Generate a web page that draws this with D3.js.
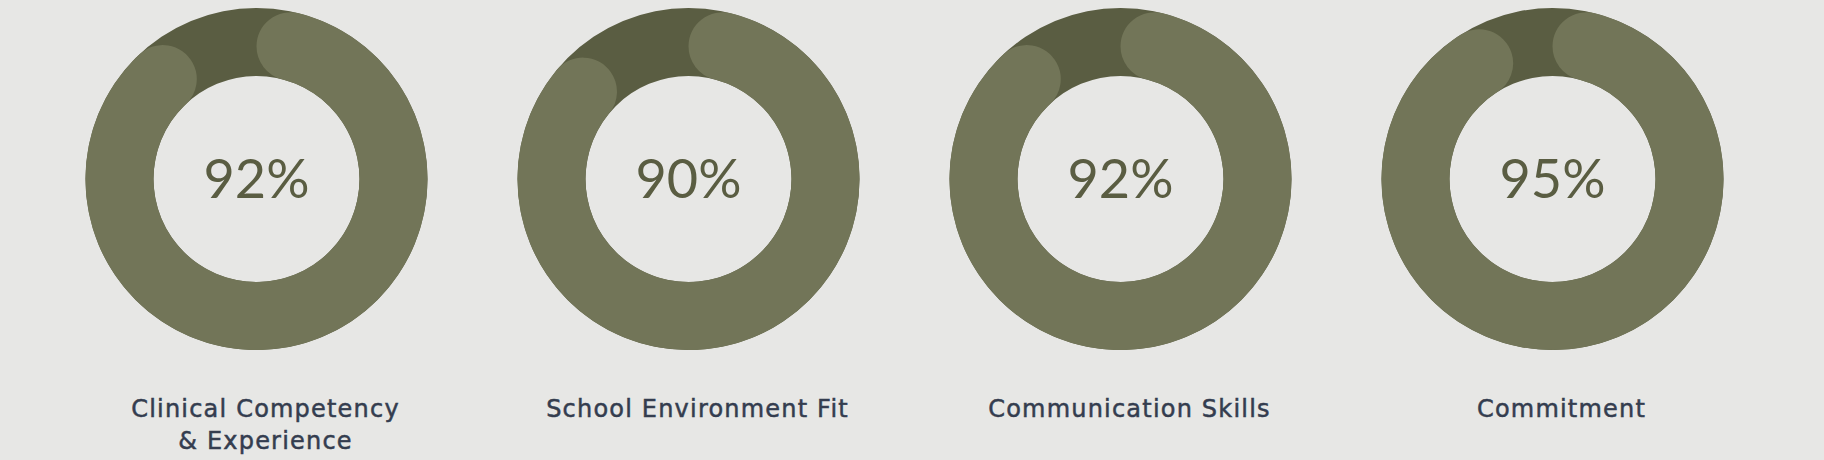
<!DOCTYPE html>
<html>
<head>
<meta charset="utf-8">
<script src="https://cdn.jsdelivr.net/npm/d3@7"></script>
<style>
  html, body { margin: 0; padding: 0; background: #e7e7e5; }
  svg { display: block; }
</style>
</head>
<body>
<script>
// scores per category
var categories = ["Clinical Competency", "School Environment Fit", "Communication Skills", "Commitment"];
var labelLines = [["Clinical Competency", "& Experience"], ["School Environment Fit"], ["Communication Skills"], ["Commitment"]];
var scores = [92, 90, 92, 95];

const WIDTH = 1824, HEIGHT = 460;
const OUTER_R = 171, INNER_R = 103;

var svg = d3.select("body").append("svg")
    .attr("width", WIDTH)
    .attr("height", HEIGHT);

var x = d3.scalePoint()
    .domain(categories)
    .range([256.5, 1552.5]);

var angle = d3.scaleLinear()
    .domain([0, 100])
    .range([0, 2 * Math.PI]);

var track = d3.arc()
    .innerRadius(INNER_R)
    .outerRadius(OUTER_R)
    .startAngle(0)
    .endAngle(2 * Math.PI);

var bar = d3.arc()
    .innerRadius(INNER_R)
    .outerRadius(OUTER_R)
    .cornerRadius((OUTER_R - INNER_R) / 2)
    .startAngle(0)
    .endAngle(function(d) { return angle(d); });

var node = svg.selectAll(".gauge")
    .data(categories)
    .enter().append("g")
        .attr("class", "gauge")
        .attr("transform", function(d) { return "translate(" + x(d) + ",179)"; });

node.append("path")
    .attr("d", track())
    .attr("fill", "#5a5d42");

node.append("path")
    .attr("d", function(d, i) { return bar(scores[i]); })
    .attr("fill", "#727558");

node.append("text")
    .attr("text-anchor", "middle")
    .attr("y", 19)
    .attr("font-family", "Lato, sans-serif")
    .attr("font-weight", 400)
    .attr("font-size", 54)
    .attr("fill", "#5a5d42")
    .text(function(d, i) { return scores[i] + "%"; });

node.append("text")
    .attr("text-anchor", "middle")
    .attr("font-family", "'DejaVu Sans', sans-serif")
    .attr("font-size", 24)
    .attr("letter-spacing", 1.2)
    .attr("fill", "#343d4f")
    .attr("stroke", "#343d4f")
    .attr("stroke-width", 0.5)
    .selectAll("tspan")
        .data(function(d, i) { return labelLines[i]; })
        .enter().append("tspan")
            .attr("x", 9)
            .attr("y", function(d, j) { return 238 + j * 32; })
            .text(function(d) { return d; });
</script>
</body>
</html>
